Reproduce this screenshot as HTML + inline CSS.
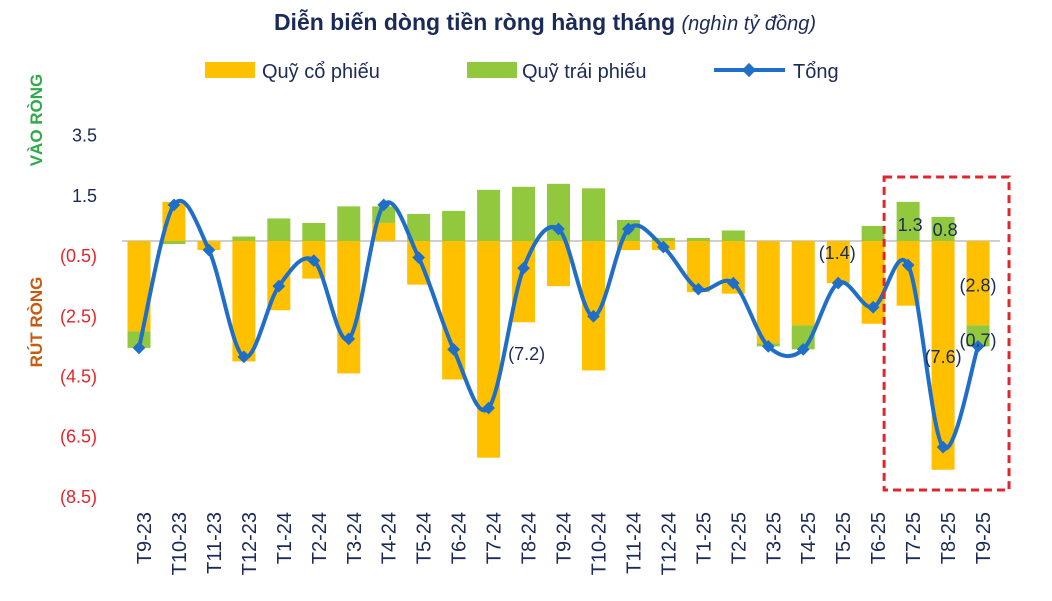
<!DOCTYPE html>
<html><head><meta charset="utf-8"><style>
body{margin:0;background:#fff;}
svg text{font-family:"Liberation Sans",Arial,sans-serif;}
</style></head><body>
<svg width="1052" height="596" viewBox="0 0 1052 596">
<text x="545" y="30" text-anchor="middle" font-size="23" font-weight="bold" fill="#1b2a57">Diễn biến dòng tiền ròng hàng tháng <tspan font-weight="normal" font-style="italic" font-size="20">(nghìn tỷ đồng)</tspan></text>
<g>
<rect x="205" y="62" width="50" height="16" fill="#ffc000"/>
<text x="262" y="78" font-size="20" fill="#1b2a57">Quỹ cổ phiếu</text>
<rect x="467" y="62" width="50" height="16" fill="#92c83e"/>
<text x="522" y="78" font-size="20" fill="#1b2a57">Quỹ trái phiếu</text>
<line x1="714" y1="70" x2="785" y2="70" stroke="#1f6fc8" stroke-width="4"/>
<rect x="744" y="65" width="10" height="10" fill="#1f6fc8" transform="rotate(45 749 70)"/>
<text x="793" y="78" font-size="20" fill="#1b2a57">Tổng</text>
</g>
<text transform="translate(42 120) rotate(-90)" text-anchor="middle" font-size="17" font-weight="bold" fill="#2eaa4a">VÀO RÒNG</text>
<text transform="translate(42 322) rotate(-90)" text-anchor="middle" font-size="17" font-weight="bold" fill="#c55a11">RÚT RÒNG</text>
<g id="plot"></g>
</svg>
<script>
const categories=["T9-23","T10-23","T11-23","T12-23","T1-24","T2-24","T3-24","T4-24","T5-24","T6-24","T7-24","T8-24","T9-24","T10-24","T11-24","T12-24","T1-25","T2-25","T3-25","T4-25","T5-25","T6-25","T7-25","T8-25","T9-25"];
const equity=[-3.0,1.3,-0.3,-4.0,-2.3,-1.25,-4.4,0.6,-1.45,-4.6,-7.2,-2.7,-1.5,-4.3,-0.3,-0.3,-1.7,-1.75,-3.4,-2.8,-1.4,-2.75,-2.15,-7.6,-2.8];
const bond=[-0.55,-0.1,0,0.15,0.75,0.6,1.15,0.55,0.9,1.0,1.7,1.8,1.9,1.75,0.7,0.1,0.1,0.35,-0.1,-0.8,0,0.5,1.3,0.8,-0.7];
const total=[-3.55,1.2,-0.3,-3.85,-1.5,-0.65,-3.25,1.2,-0.55,-3.6,-5.55,-0.9,0.4,-2.5,0.4,-0.2,-1.6,-1.4,-3.5,-3.6,-1.4,-2.2,-0.8,-6.85,-3.5];
const yTicks=[3.5,1.5,-0.5,-2.5,-4.5,-6.5,-8.5];
const yTickLabels=["3.5","1.5","(0.5)","(2.5)","(4.5)","(6.5)","(8.5)"];
const labels=[{i:10,v:"(7.2)",dx:38,dy:-48},{i:20,v:"(1.4)",dx:-1,dy:-24},{i:22,v:"1.3",dx:2,dy:-34},{i:23,v:"0.8",dx:2,dy:-211},{i:23,v:"(7.6)",dx:0,dy:-84},{i:24,v:"(2.8)",dx:0,dy:-55},{i:24,v:"(0.7)",dx:0,dy:0}];
const NS="http://www.w3.org/2000/svg";
const g=document.getElementById('plot');
const X=i=>139+i*34.96;
const Y=v=>241-v*30.1;
function mk(t,a){const e=document.createElementNS(NS,t);for(const k in a)e.setAttribute(k,a[k]);g.appendChild(e);return e;}
yTicks.forEach((t,k)=>{const e=mk('text',{x:97,y:Y(t)+6,'text-anchor':'end','font-size':18,fill:t>0?'#1b2a57':'#e0262b'});e.textContent=yTickLabels[k];

});
const zl=mk('line',{x1:122,x2:1000,y1:Y(0),y2:Y(0),stroke:'#cfcfcf','stroke-width':2});


const bw=23;
categories.forEach((c,i)=>{
 const e=equity[i],b=bond[i];
 const r1=mk('rect',{x:X(i)-bw/2,y:Math.min(Y(0),Y(e)),width:bw,height:Math.abs(Y(e)-Y(0)),fill:'#ffc000'});
 
 
 let base=(b>=0)===(e>=0)?e:0;
 const r2=mk('rect',{x:X(i)-bw/2,y:Math.min(Y(base),Y(base+b)),width:bw,height:Math.abs(Y(base+b)-Y(base)),fill:'#92c83e'});
 
 
 const t=mk('text',{transform:`translate(${X(i)+12} 512) rotate(-90)`,'text-anchor':'end','font-size':20,fill:'#1b2a57'});t.textContent=c;
 
 
});
const pts=total.map((v,i)=>[X(i),Y(v)]);
let d=`M${pts[0][0]},${pts[0][1]}`;
for(let i=0;i<pts.length-1;i++){const p0=pts[Math.max(0,i-1)],p1=pts[i],p2=pts[i+1],p3=pts[Math.min(pts.length-1,i+2)];const s=6;
d+=` C${p1[0]+(p2[0]-p0[0])/s},${p1[1]+(p2[1]-p0[1])/s} ${p2[0]-(p3[0]-p1[0])/s},${p2[1]-(p3[1]-p1[1])/s} ${p2[0]},${p2[1]}`;}
const ln=mk('path',{d:d,fill:'none',stroke:'#1f6fc8','stroke-width':4});


pts.forEach((p,i)=>{const m=mk('rect',{x:p[0]-4.5,y:p[1]-4.5,width:9,height:9,fill:'#1f6fc8',transform:`rotate(45 ${p[0]} ${p[1]})`});

});
labels.forEach(l=>{const t=mk('text',{x:X(l.i)+l.dx,y:Y(total[l.i])+l.dy,'text-anchor':'middle','font-size':18,fill:'#1b2a57'});t.textContent=l.v;

});
const hb=mk('rect',{x:X(22)-24,y:177,width:X(24)-X(22)+55,height:313,fill:'none',stroke:'#e0262b','stroke-width':3,'stroke-dasharray':'8 5'});


</script>
</body></html>
